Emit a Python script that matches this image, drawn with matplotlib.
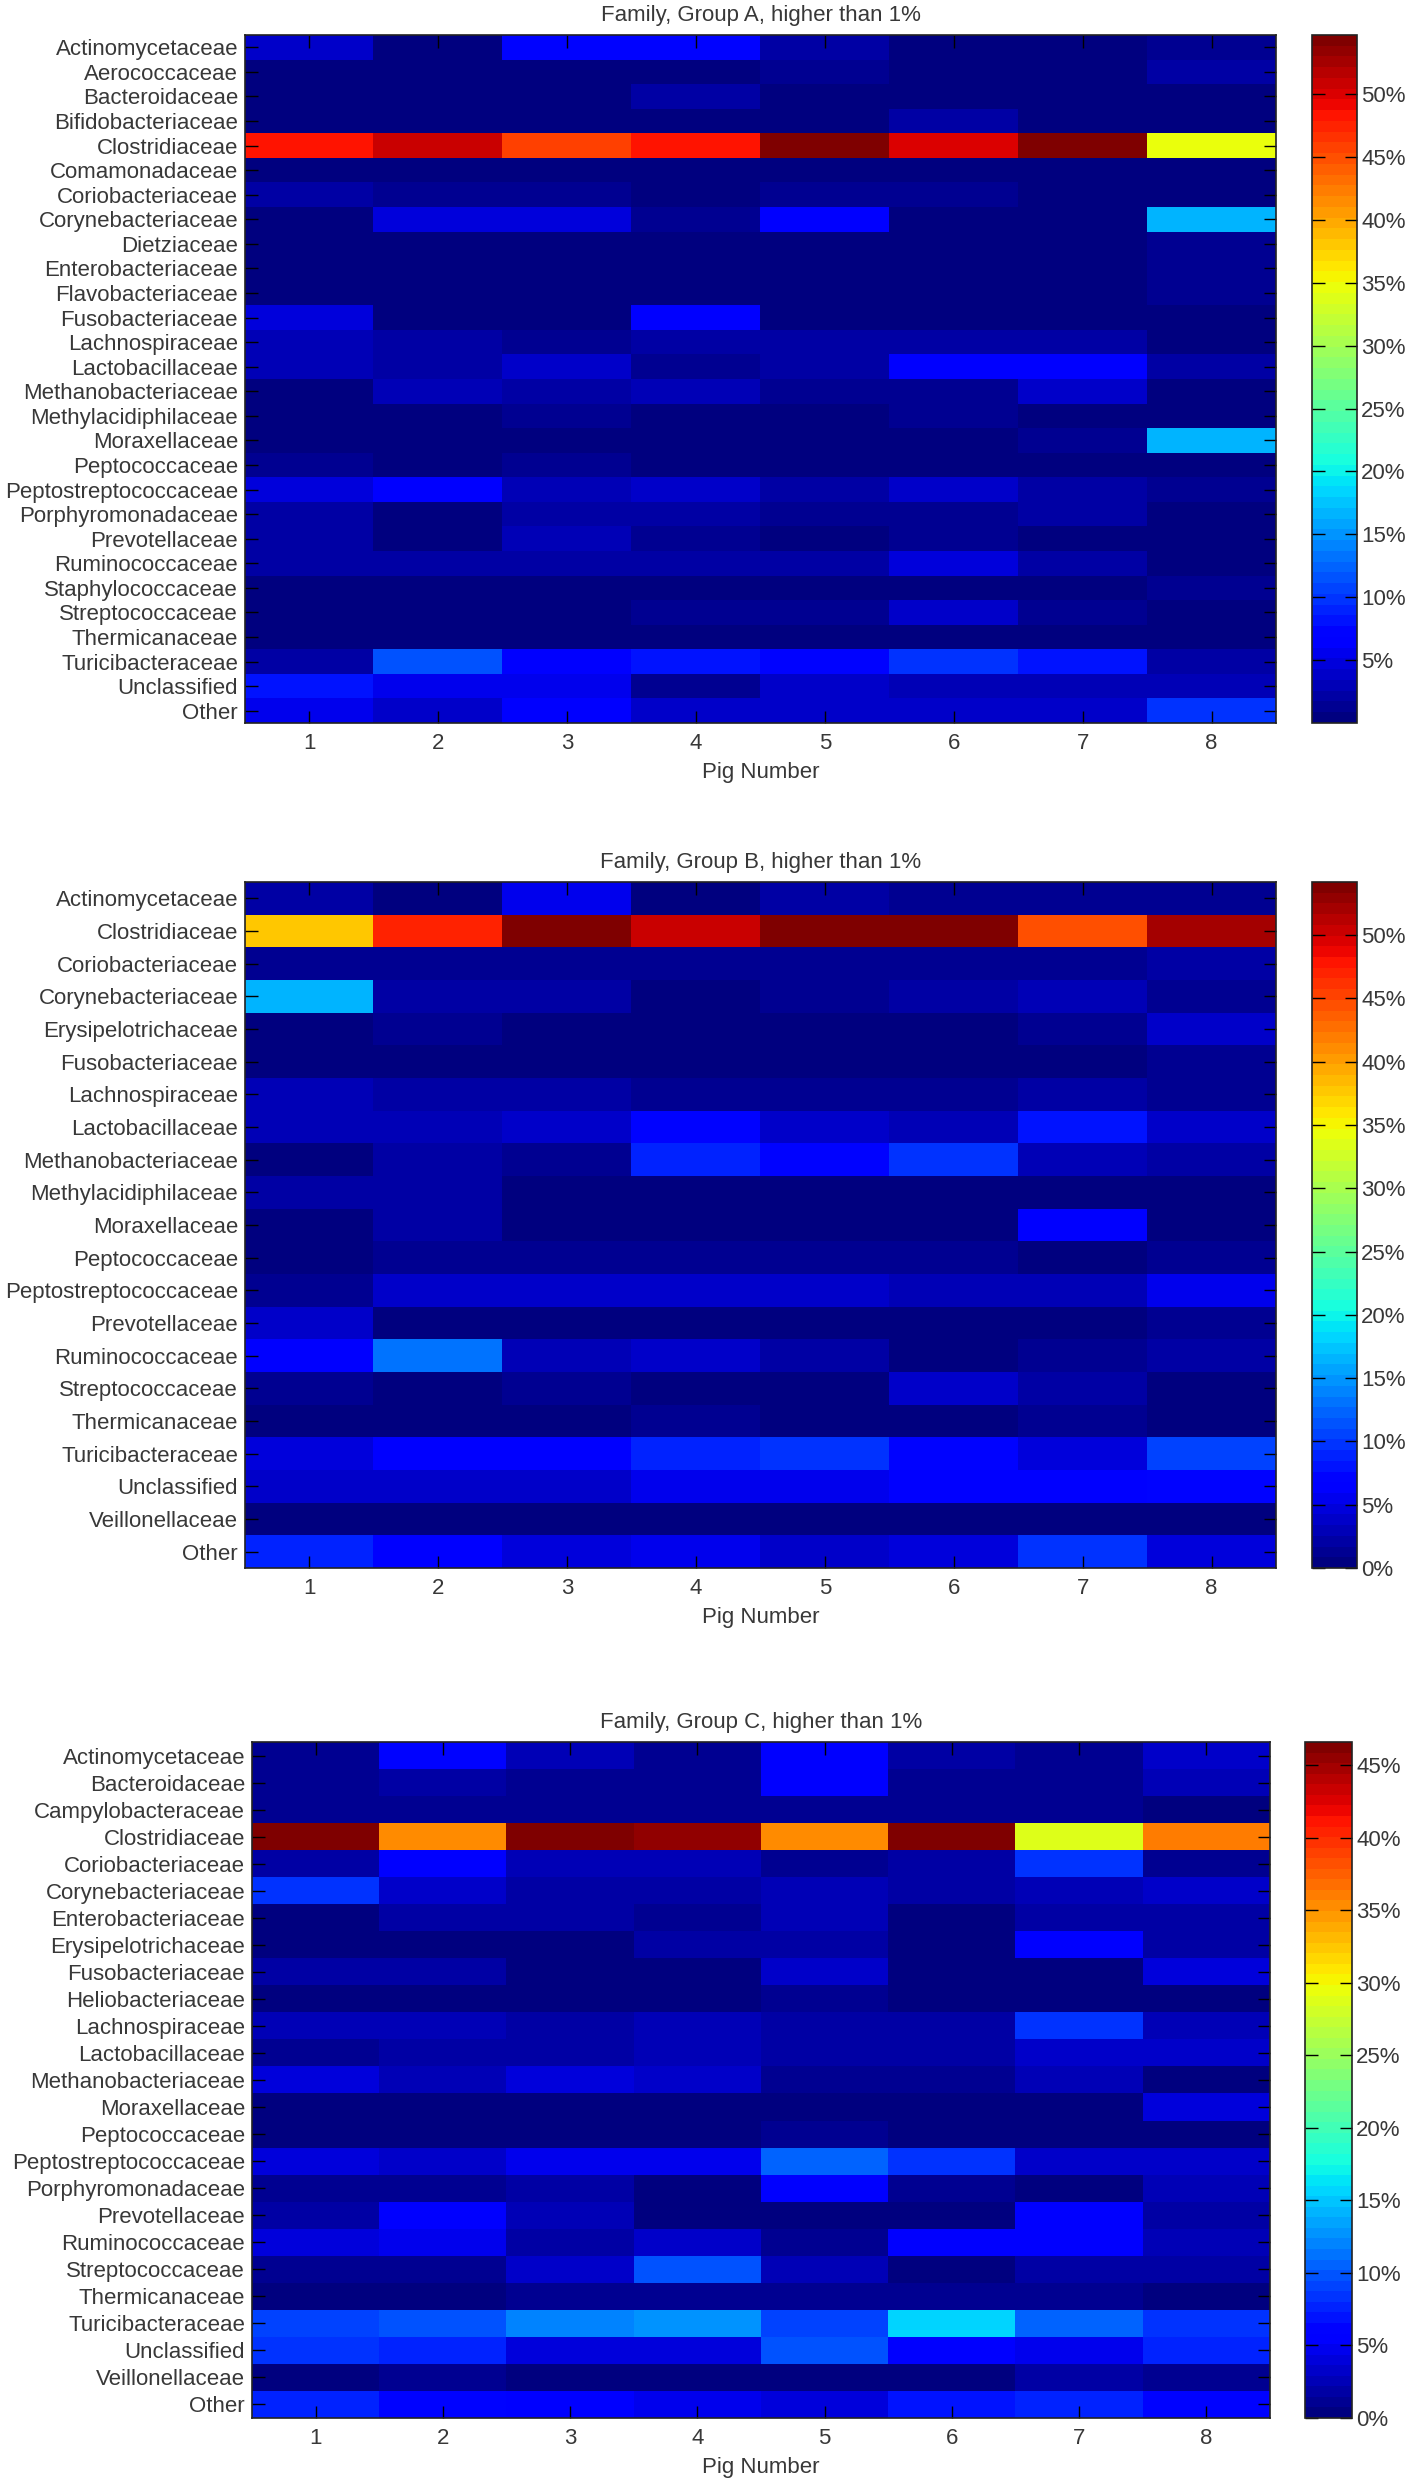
import matplotlib
matplotlib.use("Agg")
import matplotlib.pyplot as plt
import numpy as np

plt.rcParams['font.family'] = ['Liberation Sans', 'DejaVu Sans']
TXT = '#383838'
plt.rcParams['text.color'] = TXT
plt.rcParams['axes.labelcolor'] = TXT
plt.rcParams['xtick.labelcolor'] = TXT
plt.rcParams['ytick.labelcolor'] = TXT

pigs = ["1", "2", "3", "4", "5", "6", "7", "8"]

families_a = ["Actinomycetaceae", "Aerococcaceae", "Bacteroidaceae", "Bifidobacteriaceae",
              "Clostridiaceae", "Comamonadaceae", "Coriobacteriaceae", "Corynebacteriaceae",
              "Dietziaceae", "Enterobacteriaceae", "Flavobacteriaceae", "Fusobacteriaceae",
              "Lachnospiraceae", "Lactobacillaceae", "Methanobacteriaceae", "Methylacidiphilaceae",
              "Moraxellaceae", "Peptococcaceae", "Peptostreptococcaceae", "Porphyromonadaceae",
              "Prevotellaceae", "Ruminococcaceae", "Staphylococcaceae", "Streptococcaceae",
              "Thermicanaceae", "Turicibacteraceae", "Unclassified", "Other"]
values_a = [
    [3.5, 0.5, 7.0, 7.0, 2.5, 0.5, 0.5, 1.5],
    [0.3, 0.3, 0.3, 0.3, 1.0, 0.3, 0.3, 2.0],
    [0.3, 0.3, 0.3, 1.8, 0.3, 0.3, 0.3, 0.3],
    [0.4, 0.4, 0.4, 0.4, 0.4, 1.8, 0.3, 0.3],
    [47.9, 51.1, 45.8, 48.3, 54.7, 50.0, 54.7, 34.3],
    [0.3, 0.3, 0.3, 0.3, 0.3, 0.3, 0.3, 0.8],
    [1.8, 1.0, 1.5, 0.8, 1.2, 1.2, 0.5, 0.3],
    [0.3, 4.5, 4.5, 1.0, 6.5, 0.3, 0.3, 16.7],
    [0.2, 0.2, 0.2, 0.2, 0.2, 0.2, 0.2, 1.5],
    [0.2, 0.2, 0.2, 0.2, 0.2, 0.2, 0.2, 1.5],
    [0.2, 0.2, 0.2, 0.2, 0.2, 0.2, 0.2, 1.2],
    [5.0, 0.3, 0.3, 6.5, 0.3, 0.3, 0.3, 0.6],
    [3.2, 1.8, 1.2, 2.2, 2.2, 2.2, 2.2, 0.5],
    [3.0, 1.8, 4.0, 1.0, 2.0, 6.5, 6.0, 2.0],
    [0.5, 3.0, 2.2, 3.2, 1.5, 1.0, 4.0, 0.5],
    [0.5, 0.5, 1.2, 0.5, 0.5, 1.0, 0.5, 0.5],
    [0.3, 0.3, 0.3, 0.3, 0.3, 0.3, 1.0, 17.0],
    [1.2, 0.5, 1.2, 0.3, 0.3, 0.3, 0.3, 0.3],
    [4.5, 6.0, 3.0, 3.5, 2.5, 4.2, 2.5, 1.5],
    [2.2, 0.2, 2.5, 1.8, 1.0, 1.0, 2.0, 0.5],
    [2.2, 0.2, 3.2, 1.2, 0.5, 1.0, 0.5, 0.5],
    [2.5, 2.0, 2.5, 2.2, 2.2, 5.0, 1.8, 0.8],
    [0.3, 0.3, 0.3, 0.3, 0.3, 0.3, 0.3, 1.0],
    [0.3, 0.3, 0.3, 1.2, 1.2, 4.0, 1.5, 0.8],
    [0.8, 0.8, 0.3, 0.3, 0.3, 0.3, 0.3, 0.3],
    [2.2, 11.5, 6.5, 8.5, 7.5, 9.5, 8.5, 2.2],
    [8.5, 5.5, 5.5, 1.5, 3.5, 3.0, 3.0, 3.0],
    [5.5, 4.0, 6.0, 4.0, 4.0, 4.0, 4.0, 9.5],
]

families_b = ["Actinomycetaceae", "Clostridiaceae", "Coriobacteriaceae", "Corynebacteriaceae",
              "Erysipelotrichaceae", "Fusobacteriaceae", "Lachnospiraceae", "Lactobacillaceae",
              "Methanobacteriaceae", "Methylacidiphilaceae", "Moraxellaceae", "Peptococcaceae",
              "Peptostreptococcaceae", "Prevotellaceae", "Ruminococcaceae", "Streptococcaceae",
              "Thermicanaceae", "Turicibacteraceae", "Unclassified", "Veillonellaceae", "Other"]
values_b = [
    [2.5, 0.8, 5.8, 0.8, 2.0, 1.5, 1.5, 1.0],
    [37.6, 47.4, 54.2, 50.6, 53.4, 53.4, 44.4, 52.2],
    [1.5, 1.5, 1.5, 1.5, 1.5, 1.5, 1.5, 2.0],
    [16.9, 2.2, 1.8, 0.8, 1.5, 2.2, 3.2, 1.2],
    [0.5, 1.5, 0.8, 0.8, 0.5, 0.5, 1.2, 3.5],
    [0.5, 0.5, 0.5, 0.5, 0.5, 0.5, 0.5, 1.5],
    [2.8, 2.2, 2.5, 1.2, 1.2, 1.2, 1.8, 1.2],
    [2.8, 2.8, 3.5, 7.5, 4.0, 2.8, 8.1, 3.5],
    [0.5, 2.2, 1.5, 8.8, 7.5, 9.5, 3.0, 2.0],
    [1.8, 2.2, 0.8, 0.8, 0.8, 0.8, 0.8, 0.8],
    [0.5, 2.5, 0.8, 0.8, 0.8, 0.8, 6.0, 0.8],
    [0.5, 1.2, 1.0, 1.0, 1.0, 1.5, 0.8, 1.2],
    [1.5, 3.5, 3.5, 3.5, 3.5, 3.0, 3.0, 5.5],
    [4.2, 0.5, 0.5, 0.5, 0.5, 0.5, 0.5, 1.0],
    [6.0, 12.9, 2.8, 3.5, 2.5, 0.5, 1.5, 2.2],
    [1.5, 0.5, 1.2, 0.5, 0.5, 3.5, 1.8, 0.5],
    [0.5, 0.5, 0.5, 1.2, 0.5, 0.5, 1.0, 0.5],
    [5.0, 6.5, 6.5, 8.5, 9.5, 7.0, 5.0, 10.5],
    [4.0, 4.0, 4.0, 5.5, 5.5, 6.5, 6.0, 7.0],
    [0.5, 0.5, 0.5, 0.5, 0.5, 0.5, 0.5, 0.5],
    [9.0, 6.5, 4.5, 5.5, 3.8, 5.0, 10.0, 4.5],
]

families_c = ["Actinomycetaceae", "Bacteroidaceae", "Campylobacteraceae", "Clostridiaceae",
              "Coriobacteriaceae", "Corynebacteriaceae", "Enterobacteriaceae", "Erysipelotrichaceae",
              "Fusobacteriaceae", "Heliobacteriaceae", "Lachnospiraceae", "Lactobacillaceae",
              "Methanobacteriaceae", "Moraxellaceae", "Peptococcaceae", "Peptostreptococcaceae",
              "Porphyromonadaceae", "Prevotellaceae", "Ruminococcaceae", "Streptococcaceae",
              "Thermicanaceae", "Turicibacteraceae", "Unclassified", "Veillonellaceae", "Other"]
values_c = [
    [1.0, 6.4, 2.5, 0.8, 5.5, 1.5, 0.8, 3.0],
    [0.8, 1.5, 0.8, 0.8, 5.5, 0.8, 0.8, 2.5],
    [0.8, 1.2, 0.8, 0.8, 0.8, 0.8, 0.8, 0.5],
    [45.9, 35.5, 45.9, 45.3, 35.5, 46.6, 28.9, 36.1],
    [1.5, 5.5, 2.2, 2.2, 0.8, 1.5, 8.7, 1.2],
    [8.7, 3.5, 1.5, 1.8, 2.5, 1.5, 2.2, 3.5],
    [0.5, 1.5, 1.5, 0.8, 2.2, 0.5, 1.5, 1.8],
    [0.5, 0.5, 0.5, 1.5, 1.5, 0.5, 5.5, 1.8],
    [1.5, 2.0, 0.5, 0.5, 3.5, 0.5, 0.5, 4.0],
    [0.5, 0.5, 0.5, 0.5, 1.2, 0.5, 0.5, 0.5],
    [2.2, 2.2, 2.0, 2.8, 1.5, 2.0, 8.1, 2.5],
    [1.0, 2.0, 2.0, 2.2, 1.5, 1.8, 3.5, 3.5],
    [3.8, 2.5, 4.0, 3.5, 0.8, 1.2, 2.8, 0.5],
    [0.5, 0.5, 0.5, 0.5, 0.5, 0.5, 0.5, 4.0],
    [0.5, 0.5, 0.5, 0.5, 1.0, 0.5, 0.5, 0.5],
    [4.0, 3.2, 5.0, 5.0, 10.5, 8.7, 3.2, 3.5],
    [1.2, 1.2, 1.8, 0.5, 5.3, 1.2, 0.5, 2.2],
    [1.8, 5.8, 2.2, 0.5, 0.5, 0.5, 5.2, 2.0],
    [3.8, 4.5, 2.0, 3.5, 1.2, 5.5, 5.5, 2.2],
    [0.8, 1.0, 3.5, 9.5, 2.5, 0.5, 1.8, 1.5],
    [0.5, 0.5, 1.2, 1.2, 0.8, 1.2, 1.0, 0.5],
    [9.3, 9.9, 12.0, 12.8, 9.3, 16.0, 10.5, 8.7],
    [8.5, 7.5, 3.8, 3.8, 9.5, 5.5, 4.5, 7.5],
    [0.5, 1.0, 0.5, 0.5, 0.5, 0.5, 1.5, 1.0],
    [7.5, 6.5, 5.5, 4.5, 4.0, 7.0, 8.0, 6.5],
]

titles = ["Family, Group A, higher than 1%", "Family, Group B, higher than 1%",
          "Family, Group C, higher than 1%"]
cbar_ticks_a = [5, 10, 15, 20, 25, 30, 35, 40, 45, 50]
cbar_ticks_b = [0, 5, 10, 15, 20, 25, 30, 35, 40, 45, 50]
cbar_ticks_c = [0, 5, 10, 15, 20, 25, 30, 35, 40, 45]

W, H = 1409, 2481
fig = plt.figure(figsize=(W / 100, H / 100), dpi=100)
cmap = plt.get_cmap('jet', 64)
FS = 16


def px_rect(left, top, right, bottom):
    return [left / W, 1 - bottom / H, (right - left) / W, (bottom - top) / H]


panels = [
    (families_a, values_a, titles[0], cbar_ticks_a, (245, 35, 1276, 723), (1312, 35, 1357, 723)),
    (families_b, values_b, titles[1], cbar_ticks_b, (245, 882, 1276, 1568), (1312, 882, 1357, 1568)),
    (families_c, values_c, titles[2], cbar_ticks_c, (252, 1742, 1270, 2418), (1305, 1742, 1352, 2418)),
]

for fams, vals, title, cticks, arect, crect in panels:
    data = np.array(vals, dtype=float)
    ax = fig.add_axes(px_rect(*arect))
    cax = fig.add_axes(px_rect(*crect))
    im = ax.imshow(data, cmap=cmap, vmin=0, vmax=data.max(), aspect='auto',
                   interpolation='nearest')
    ax.set_xticks(range(len(pigs)))
    ax.set_xticklabels(pigs, fontsize=FS)
    ax.set_yticks(range(len(fams)))
    ax.set_yticklabels(fams, fontsize=FS)
    ax.tick_params(axis='both', direction='in', length=9, width=1, color='black',
                   top=True, right=True, bottom=True, left=True)
    ax.tick_params(axis='x', pad=7)
    ax.tick_params(axis='y', pad=5)
    ax.set_xlabel("Pig Number", fontsize=FS, labelpad=6)
    ax.set_title(title, fontsize=FS, pad=10)
    for s in ax.spines.values():
        s.set_linewidth(1.2)
        s.set_color('#222222')

    cb = fig.colorbar(im, cax=cax)
    cb.set_ticks(cticks)
    cb.set_ticklabels([f"{t}%" for t in cticks])
    cax.tick_params(axis='y', direction='in', length=9, width=1, labelsize=FS,
                    left=True, right=True, labelleft=False, labelright=True, pad=3)
    cb.outline.set_linewidth(1.2)
    cb.outline.set_edgecolor('#222222')

fig.savefig("out.png", dpi=100, facecolor='white')
